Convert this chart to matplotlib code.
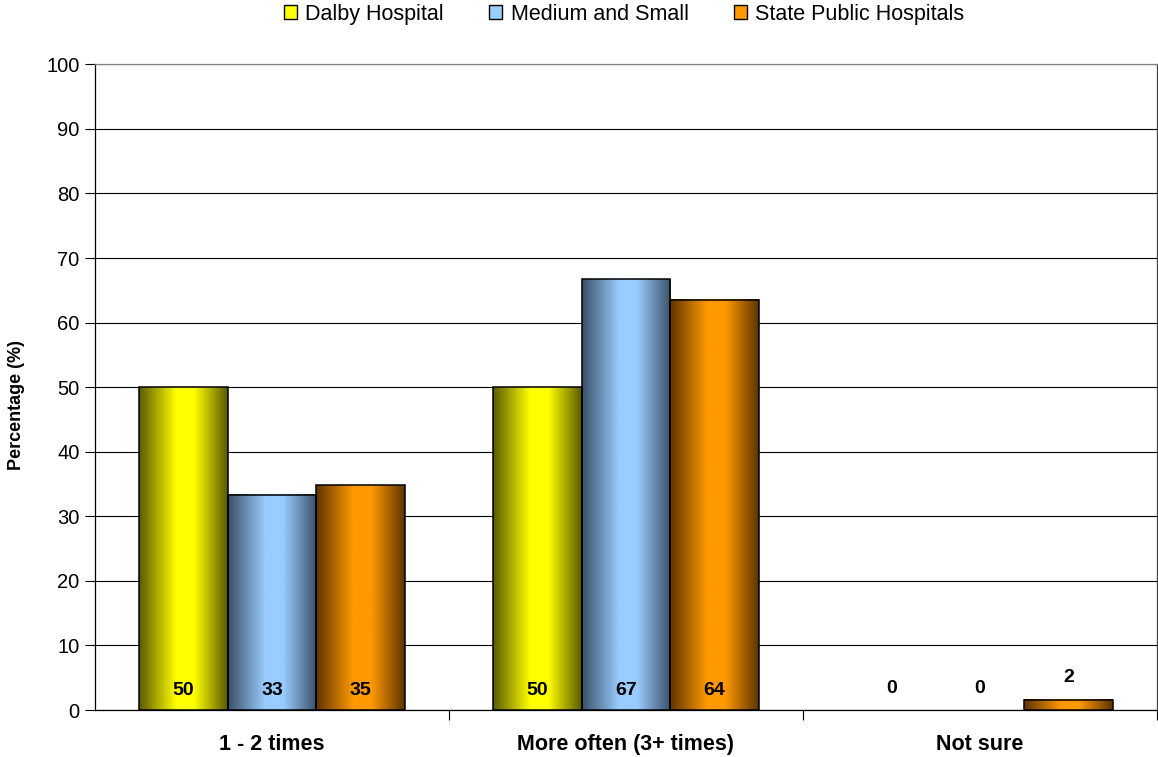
import numpy as np
import matplotlib
matplotlib.use('Agg')
import matplotlib.pyplot as plt
from matplotlib.colors import LinearSegmentedColormap
from matplotlib.patches import Patch

plt.rcParams['font.family'] = ['Liberation Sans', 'DejaVu Sans']

CATEGORIES = ['1 - 2 times', 'More often (3+ times)', 'Not sure']
SERIES = ['Dalby Hospital', 'Medium and Small', 'State Public Hospitals']
VALUES = [
    [50.0, 50.0, 0.0],
    [33.3, 66.7, 0.0],
    [34.8, 63.5, 1.6],
]
LABELS = [
    ['50', '50', '0'],
    ['33', '67', '0'],
    ['35', '64', '2'],
]
DARK = ['#5a5a00', '#3c5068', '#5e3400']
BRIGHT = ['#ffff00', '#99ccff', '#ff9900']

fig = plt.figure(figsize=(11.58, 7.57), dpi=100)
ax = fig.add_axes([0.082, 0.062, 0.917, 0.853])

bar_w = 0.25
x = np.arange(len(CATEGORIES))
grad = np.linspace(0, 1, 256).reshape(1, -1)

for i, name in enumerate(SERIES):
    cmap = LinearSegmentedColormap.from_list(
        name, [(0, DARK[i]), (0.42, BRIGHT[i]), (0.62, BRIGHT[i]), (1, DARK[i])])
    pos = x + (i - 1) * bar_w
    bars = ax.bar(pos, VALUES[i], width=bar_w, facecolor='none',
                  edgecolor='black', linewidth=1.1, zorder=4)
    for b in bars:
        h = b.get_height()
        if h <= 0:
            b.set_edgecolor('none')
            continue
        ax.imshow(grad, cmap=cmap, aspect='auto', zorder=3,
                  extent=(b.get_x(), b.get_x() + b.get_width(), 0, h))
    for p, v, lab in zip(pos, VALUES[i], LABELS[i]):
        y = 3.0 if v > 5 else v + 3.4
        ax.text(p, y, lab, ha='center', va='center', fontsize=14,
                fontweight='bold', zorder=5)

ax.set_xlim(-0.5, 2.5)
ax.set_ylim(0, 100)
ax.set_yticks(np.arange(0, 101, 10))
ax.tick_params(axis='y', labelsize=14.5, length=7, width=0.8, direction='out', pad=4)
ax.set_xticks(x)
ax.set_xticklabels(CATEGORIES, fontsize=15.5, fontweight='bold')
ax.tick_params(axis='x', which='major', length=0, pad=17)
ax.set_xticks([0.5, 1.5, 2.5], minor=True)
ax.tick_params(axis='x', which='minor', length=7, width=0.8)
ax.grid(axis='y', color='black', linewidth=0.8, zorder=1)
ax.set_axisbelow(True)
for s in ax.spines.values():
    s.set_linewidth(0.9)
ax.spines['top'].set_color('#808080')
ax.spines['right'].set_color('#404040')
ax.set_ylabel('Percentage (%)', fontsize=13, fontweight='bold')
ax.yaxis.set_label_coords(-0.066, 0.472)

handles = [Patch(facecolor=BRIGHT[i], edgecolor='black', linewidth=1.0)
           for i in range(len(SERIES))]
fig.legend(handles, SERIES, loc='center', bbox_to_anchor=(0.539, 0.981),
           ncol=3, frameon=False, fontsize=15.5, handlelength=0.6,
           handleheight=0.6, handletextpad=0.4, columnspacing=2.1)

fig.savefig('out.png', dpi=100)
